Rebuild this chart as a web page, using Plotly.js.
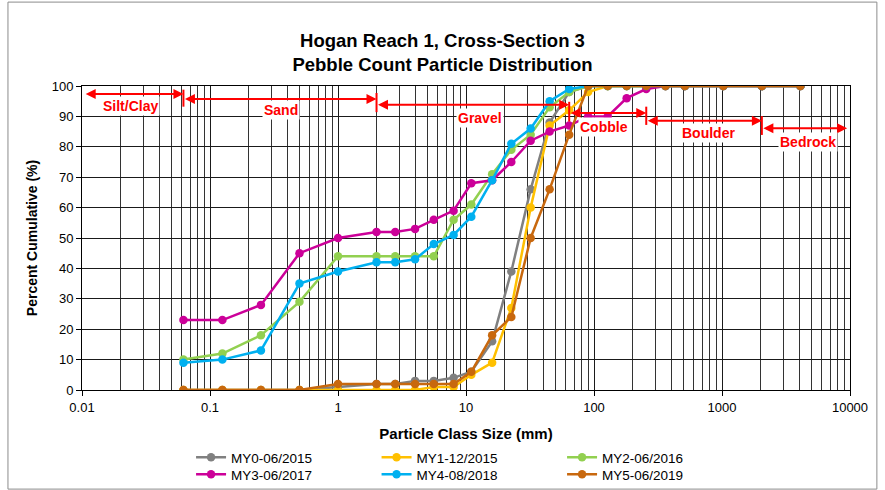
<!DOCTYPE html>
<html>
<head>
<meta charset="utf-8">
<script src="https://cdn.plot.ly/plotly-3.0.1.min.js"></script>
<style>
  html, body { margin: 0; padding: 0; background: #fff; }
  #chart { width: 885px; height: 490px; }
</style>
</head>
<body>
<div id="chart"></div>
<script>
// Particle class sizes (mm)
const sizes = [0.062, 0.125, 0.25, 0.5, 1, 2, 2.8, 4, 5.6, 8, 11, 16, 22.6, 32, 45, 64, 90, 128, 180, 256, 362, 512, 1024, 2048, 4096];

// Percent cumulative for each monitoring year
const my0 = [0, 0, 0, 0, 1, 2, 2, 3, 3, 4, 6, 16, 39, 66, 88, 98, 100, 100, 100, 100, 100, 100, 100, 100, 100];
const my1 = [0, 0, 0, 0, 0, 0, 0, 0, 1, 1, 5, 9, 27, 60, 87, 92, 98, 100, 100, 100, 100, 100, 100, 100, 100];
const my2 = [10, 12, 18, 29, 44, 44, 44, 44, 44, 56, 61, 71, 79, 84, 93, 98, 100, 100, 100, 100, 100, 100, 100, 100, 100];
const my3 = [23, 23, 28, 45, 50, 52, 52, 53, 56, 59, 68, 69, 75, 82, 85, 87, 90, 90, 96, 99, 100, 100, 100, 100, 100];
const my4 = [9, 10, 13, 35, 39, 42, 42, 43, 48, 51, 57, 69, 81, 86, 95, 99, 100, 100, 100, 100, 100, 100, 100, 100, 100];
const my5 = [0, 0, 0, 0, 2, 2, 2, 2, 2, 2, 6, 18, 24, 50, 66, 84, 100, 100, 100, 100, 100, 100, 100, 100, 100];

const seriesNames = ["MY0-06/2015", "MY1-12/2015", "MY2-06/2016", "MY3-06/2017", "MY4-08/2018", "MY5-06/2019"];
const seriesValues = [my0, my1, my2, my3, my4, my5];
const seriesColors = ["#808080", "#FFC000", "#92D050", "#CC0099", "#00B0F0", "#C8680E"];
const seriesLegend = ["legend", "legend", "legend", "legend2", "legend2", "legend2"];

// Size-class boundaries (mm) and labels
const classNames = ["Silt/Clay", "Sand", "Gravel", "Cobble", "Boulder", "Bedrock"];
const classStart = [0.0104, 0.062, 2, 64, 256, 2048];
const classEnd = [0.062, 2, 64, 256, 2048, 9500];
const classArrowY = [97.4, 95.7, 93.8, 91.1, 88.6, 86.1];
const classLabelX = [0.024, 0.36, 12.9, 120, 780, 4700];
const classLabelY = [93.4, 92.1, 89.6, 86.6, 84.6, 81.6];
const boundaryX = [0.062, 2, 64, 256, 2048];
const boundaryY0 = [93.2, 91.4, 88.3, 87.2, 83.9];
const boundaryY1 = [98.8, 97.7, 94.8, 93.2, 90.1];

const tickVals = [0.01, 0.1, 1, 10, 100, 1000, 10000];
const tickText = ["0.01", "0.1", "1", "10", "100", "1000", "10000"];

const NARROW = '"Liberation Sans Narrow", "Liberation Sans", Arial, sans-serif';
const SANS = '"Liberation Sans", Arial, sans-serif';

const traces = seriesNames.map((name, i) => ({
  type: 'scatter',
  mode: 'lines+markers',
  name: name,
  legend: seriesLegend[i],
  x: sizes,
  y: seriesValues[i],
  line: { color: seriesColors[i], width: 2.5 },
  marker: { color: seriesColors[i], size: 8.5, symbol: 'circle' }
}));

const annotations = [];
const shapes = [];
classNames.forEach((c, i) => {
  annotations.push({
    xref: 'x', yref: 'y', axref: 'x', ayref: 'y',
    x: Math.log10(classEnd[i]), y: classArrowY[i],
    ax: Math.log10(classStart[i]), ay: classArrowY[i],
    text: '', showarrow: true, arrowside: 'end+start',
    arrowhead: 2, arrowsize: 1, arrowwidth: 2, arrowcolor: '#FF0000',
    standoff: 0, startstandoff: 0
  });
  annotations.push({
    xref: 'x', yref: 'y',
    x: Math.log10(classLabelX[i]), y: classLabelY[i],
    text: '<b>' + c + '</b>', showarrow: false,
    bgcolor: '#FFFFFF', borderpad: 1,
    font: { family: NARROW, size: 14, color: '#FF0000' }
  });
});
boundaryX.forEach((bx, i) => {
  shapes.push({
    type: 'line', xref: 'x', yref: 'y',
    x0: bx, x1: bx, y0: boundaryY0[i], y1: boundaryY1[i],
    line: { color: '#FF0000', width: 2 }
  });
});
// outer chart-area border
shapes.push({
  type: 'rect', xref: 'paper', yref: 'paper', layer: 'below',
  x0: -0.0964, x1: 1.035, y0: -0.326, y1: 1.276,
  line: { color: '#8C8C8C', width: 1 }
});

const legendBase = {
  orientation: 'h', x: 0.142, xanchor: 'left',
  yref: 'container', yanchor: 'top',
  entrywidth: 140.5, entrywidthmode: 'pixels',
  font: { family: SANS, size: 13.5 }, tracegroupgap: 0, itemwidth: 30,
  bgcolor: 'rgba(0,0,0,0)'
};

const layout = {
  width: 885, height: 490,
  margin: { l: 82, r: 35, t: 86, b: 100 },
  paper_bgcolor: '#FFFFFF', plot_bgcolor: '#FFFFFF',
  font: { family: SANS, color: '#000000', size: 13 },
  title: {
    text: '<b>Hogan Reach 1, Cross-Section 3<br>Pebble Count Particle Distribution</b>',
    xref: 'container', x: 0.5, xanchor: 'center',
    yref: 'container', y: 0.904, yanchor: 'top',
    font: { family: NARROW, size: 18.5, color: '#000000' }
  },
  xaxis: {
    type: 'log', range: [-2, 4], automargin: false,
    tickvals: tickVals, ticktext: tickText,
    showgrid: true, gridcolor: '#1a1a1a', gridwidth: 1,
    minor: { dtick: 'D1', showgrid: true, gridcolor: '#333333', gridwidth: 1, ticks: '' },
    showline: true, linecolor: '#000000', linewidth: 1, mirror: true,
    ticks: 'outside', ticklen: 5, tickcolor: '#000000',
    tickfont: { family: SANS, size: 13 },
    zeroline: false,
    title: { text: '<b>Particle Class Size (mm)</b>', font: { family: NARROW, size: 15 }, standoff: 15 }
  },
  yaxis: {
    range: [0, 100], dtick: 10, automargin: false,
    showgrid: true, gridcolor: '#1a1a1a', gridwidth: 1,
    showline: true, linecolor: '#000000', linewidth: 1, mirror: true,
    ticks: 'outside', ticklen: 5, tickcolor: '#000000',
    tickfont: { family: SANS, size: 13 },
    zeroline: false,
    title: { text: '<b>Percent Cumulative (%)</b>', font: { family: NARROW, size: 14 }, standoff: 10 }
  },
  showlegend: true,
  legend: Object.assign({}, legendBase, { y: 0.098 }),
  legend2: Object.assign({}, legendBase, { y: 0.0633 }),
  annotations: annotations,
  shapes: shapes
};

Plotly.newPlot('chart', traces, layout, { displayModeBar: false, staticPlot: true });
</script>
</body>
</html>
